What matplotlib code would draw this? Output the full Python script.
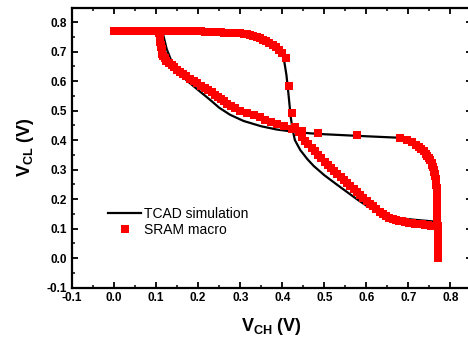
import matplotlib
matplotlib.use("Agg")
import matplotlib.pyplot as plt
from matplotlib.ticker import MultipleLocator

plt.rcParams['font.family'] = ['Liberation Sans', 'DejaVu Sans']
plt.rcParams['mathtext.fontset'] = 'custom'
plt.rcParams['mathtext.rm'] = 'Liberation Sans'
plt.rcParams['mathtext.bf'] = 'Liberation Sans:bold'

# ---- data ----
# macro sweep grid (V)
sweep = [0.0, 0.0077, 0.0154, 0.0231, 0.0308, 0.0385, 0.0462, 0.0539, 0.0616, 0.0693,
         0.077, 0.0847, 0.0924, 0.1001, 0.1078, 0.1155, 0.1232, 0.1309, 0.1386, 0.1463,
         0.154, 0.1617, 0.1694, 0.1771, 0.1848, 0.1925, 0.2002, 0.2079, 0.2156, 0.2233,
         0.231, 0.2387, 0.2464, 0.2541, 0.2618, 0.2695, 0.2772, 0.2849, 0.2926, 0.3003,
         0.308, 0.3157, 0.3234, 0.3311, 0.3388, 0.3465, 0.3542, 0.3619, 0.3696, 0.3773,
         0.385, 0.3927, 0.4004, 0.4081, 0.4158, 0.4235, 0.4312, 0.4389, 0.4466, 0.4543,
         0.462, 0.4697, 0.4774, 0.4851, 0.4928, 0.5005, 0.5082, 0.5159, 0.5236, 0.5313,
         0.539, 0.5467, 0.5544, 0.5621, 0.5698, 0.5775, 0.5852, 0.5929, 0.6006, 0.6083,
         0.616, 0.6237, 0.6314, 0.6391, 0.6468, 0.6545, 0.6622, 0.6699, 0.6776, 0.6853,
         0.693, 0.7007, 0.7084, 0.7161, 0.7238, 0.7315, 0.7392, 0.7469, 0.7546, 0.7623,
         0.77]

# SRAM macro, curve A: VCL vs swept VCH
macro_A_vcl = [0.770, 0.770, 0.770, 0.770, 0.770, 0.770, 0.770, 0.770, 0.770, 0.770,
               0.770, 0.770, 0.770, 0.770, 0.770, 0.770, 0.770, 0.770, 0.770, 0.770,
               0.770, 0.770, 0.770, 0.770, 0.770, 0.770, 0.769, 0.769, 0.768, 0.768,
               0.767, 0.767, 0.766, 0.766, 0.765, 0.765, 0.764, 0.763, 0.763, 0.762,
               0.761, 0.759, 0.757, 0.754, 0.751, 0.746, 0.741, 0.736, 0.730, 0.724,
               0.716, 0.705, 0.694, 0.680, 0.582, 0.491, 0.446, 0.428, 0.412, 0.398,
               0.386, 0.374, 0.363, 0.351, 0.339, 0.327, 0.316, 0.305, 0.294, 0.284,
               0.274, 0.264, 0.254, 0.244, 0.234, 0.224, 0.214, 0.204, 0.194, 0.184,
               0.175, 0.166, 0.157, 0.149, 0.142, 0.137, 0.132, 0.129, 0.126, 0.124,
               0.122, 0.120, 0.119, 0.117, 0.116, 0.115, 0.113, 0.112, 0.110, 0.109,
               0.107]

# SRAM macro, curve B: VCH vs swept VCL
macro_B_vch = [0.770, 0.770, 0.770, 0.770, 0.770, 0.770, 0.770, 0.770, 0.770, 0.770,
               0.770, 0.770, 0.770, 0.770, 0.770, 0.769, 0.769, 0.769, 0.769, 0.769,
               0.769, 0.769, 0.769, 0.769, 0.769, 0.769, 0.768, 0.768, 0.768, 0.767,
               0.767, 0.767, 0.766, 0.766, 0.765, 0.765, 0.764, 0.763, 0.762, 0.761,
               0.759, 0.757, 0.755, 0.752, 0.749, 0.745, 0.741, 0.736, 0.731, 0.726,
               0.719, 0.709, 0.697, 0.680, 0.578, 0.486, 0.446, 0.424, 0.404, 0.388,
               0.374, 0.360, 0.347, 0.333, 0.315, 0.300, 0.288, 0.278, 0.269, 0.261,
               0.254, 0.247, 0.240, 0.232, 0.224, 0.216, 0.207, 0.198, 0.189, 0.180,
               0.171, 0.163, 0.157, 0.150, 0.143, 0.137, 0.130, 0.124, 0.120, 0.117,
               0.115, 0.114, 0.113, 0.112, 0.111, 0.110, 0.110, 0.109, 0.109, 0.108,
               0.108]

# TCAD simulation, curve A (VCH, VCL)
tcad_A_vch = [0.0, 0.2, 0.3, 0.34, 0.37, 0.39, 0.40, 0.405, 0.41, 0.415, 0.42, 0.424,
              0.43, 0.443, 0.46, 0.475, 0.50, 0.53, 0.554, 0.58, 0.60, 0.625, 0.65,
              0.673, 0.72, 0.76, 0.77]
tcad_A_vcl = [0.77, 0.77, 0.763, 0.75, 0.73, 0.71, 0.69, 0.665, 0.62, 0.553, 0.48, 0.44,
              0.40, 0.366, 0.335, 0.312, 0.281, 0.249, 0.224, 0.197, 0.178, 0.157, 0.143,
              0.136, 0.129, 0.124, 0.121]

# TCAD simulation, curve B (VCH, VCL)
tcad_B_vch = [0.77, 0.77, 0.765, 0.752, 0.735, 0.715, 0.695, 0.68, 0.586, 0.50, 0.467,
              0.43, 0.387, 0.35, 0.308, 0.276, 0.25, 0.229, 0.20, 0.173, 0.155, 0.137,
              0.125, 0.117, 0.115]
tcad_B_vcl = [0.0, 0.2, 0.3, 0.345, 0.375, 0.395, 0.404, 0.408, 0.414, 0.42, 0.423,
              0.428, 0.436, 0.447, 0.465, 0.486, 0.51, 0.536, 0.57, 0.602, 0.63, 0.666,
              0.71, 0.757, 0.77]

# ---- figure ----
fig = plt.figure(figsize=(4.68, 3.41), dpi=100)
ax = fig.add_axes([72/468, 53.5/341, 399.5/468, 280/341])

ax.plot(tcad_A_vch, tcad_A_vcl, color='black', lw=1.6, label='TCAD simulation', zorder=2)
ax.plot(tcad_B_vch, tcad_B_vcl, color='black', lw=1.6, zorder=2)
ax.plot(sweep, macro_A_vcl, ls='none', marker='s', ms=5.4, mew=0, color='#ff0000',
        label='SRAM macro', zorder=3)
ax.plot(macro_B_vch, sweep, ls='none', marker='s', ms=5.4, mew=0, color='#ff0000', zorder=3)

ax.set_xlim(-0.1, 0.85)
ax.set_ylim(-0.1, 0.85)
ax.xaxis.set_minor_locator(MultipleLocator(0.05))
ax.yaxis.set_minor_locator(MultipleLocator(0.05))
ticks = [-0.1, 0.0, 0.1, 0.2, 0.3, 0.4, 0.5, 0.6, 0.7, 0.8]
tick_labels = ['-0.1', '0.0', '0.1', '0.2', '0.3', '0.4', '0.5', '0.6', '0.7', '0.8']
ax.set_xticks(ticks)
ax.set_yticks(ticks)
ax.set_xticklabels(tick_labels)
ax.set_yticklabels(tick_labels)

ax.tick_params(which='both', direction='in', top=True, right=True)
ax.tick_params(which='major', length=4.5, width=1.3, labelsize=8.5, pad=3.5)
ax.tick_params(which='minor', length=2.5, width=1.1)
for lab in ax.get_xticklabels() + ax.get_yticklabels():
    lab.set_fontweight('bold')
for s in ax.spines.values():
    s.set_linewidth(1.6)

ax.set_xlabel(r'$\mathbf{V_{CH}}$ (V)', fontsize=13, fontweight='bold', labelpad=8.5)
ax.set_ylabel(r'$\mathbf{V_{CL}}$ (V)', fontsize=13, fontweight='bold', labelpad=8)

leg = ax.legend(loc='upper left', bbox_to_anchor=(108/468, 1 - 207/341),
                bbox_transform=fig.transFigure, frameon=False, fontsize=10,
                handlelength=2.4, handletextpad=0.2, labelspacing=0.12,
                borderpad=0, borderaxespad=0, numpoints=1)

fig.savefig('out.png', dpi=100)
